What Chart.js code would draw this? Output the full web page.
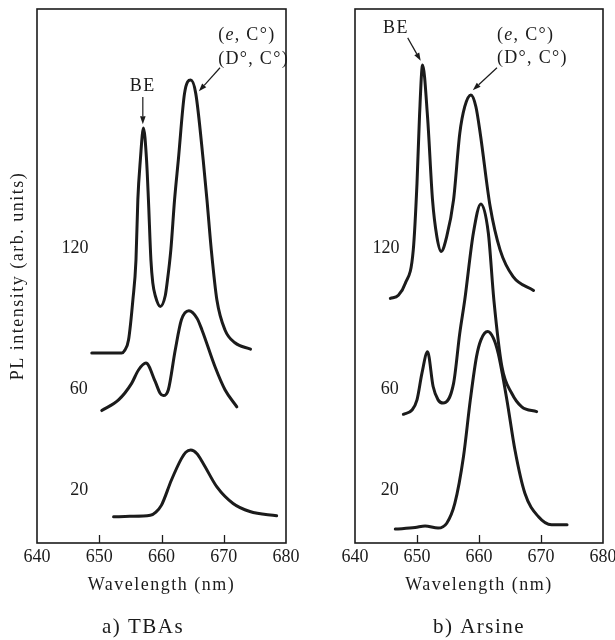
<!DOCTYPE html>
<html>
<head>
<meta charset="utf-8">
<script src="https://cdn.jsdelivr.net/npm/chart.js@4/dist/chart.umd.min.js"></script>
<style>
  html, body { margin: 0; padding: 0; background: #fff; }
  #wrap { position: relative; width: 615px; height: 640px; overflow: hidden; background: #fff; }
  canvas { position: absolute; top: 0; }
  #tbas { left: 0; }
  #arsine { left: 300px; }
</style>
</head>
<body>
<div id="wrap">
  <canvas id="tbas" width="300" height="640"></canvas>
  <canvas id="arsine" width="315" height="640"></canvas>
</div>
<script>
// Wavelength axis (nm)
const wavelengthTicks = [640, 650, 660, 670, 680];

// PL spectra, TBAs source: wavelength (nm) and intensity (arb. units, offset per trace)
const tbas120Wl  = [648.8, 650.9, 653.6, 654.1, 654.7, 655.4, 655.9, 656.2, 656.6, 657.1, 657.6, 657.9, 658.3, 658.6, 659.0, 659.8, 660.6, 660.9, 661.5, 662.1, 662.7, 663.7, 664.7, 665.5, 666.7, 667.3, 668.0, 668.9, 670.2, 671.8, 674.3];
const tbas120Int = [35.6, 35.6, 35.6, 36.1, 38.0, 45.5, 53.0, 64.3, 71.7, 77.7, 71.7, 64.3, 53.0, 48.7, 46.3, 44.3, 46.3, 48.7, 54.9, 64.3, 71.7, 84.2, 86.7, 84.2, 71.7, 64.3, 54.9, 45.5, 39.9, 37.5, 36.3];
const tbas60Wl   = [650.4, 653.1, 655.2, 656.3, 657.5, 659.0, 659.8, 660.3, 661.1, 662.2, 663.2, 664.4, 665.7, 666.5, 668.6, 670.2, 672.1];
const tbas60Int  = [24.8, 26.8, 29.9, 32.4, 33.7, 30.2, 28.0, 27.6, 28.7, 36.1, 41.8, 43.5, 42.1, 39.9, 33.0, 28.7, 25.5];
const tbas20Wl   = [652.3, 654.9, 658.2, 659.1, 660.0, 661.6, 663.2, 663.9, 664.7, 665.7, 666.7, 668.9, 671.5, 674.2, 678.5];
const tbas20Int  = [4.9, 5.0, 5.2, 5.8, 7.1, 11.8, 15.8, 17.0, 17.4, 16.7, 14.9, 10.5, 7.4, 5.9, 5.1];

// PL spectra, arsine source
const ars120Wl  = [645.7, 647.0, 648.1, 649.4, 650.0, 650.4, 650.9, 651.7, 652.5, 653.2, 653.9, 654.8, 655.9, 656.9, 657.7, 658.7, 659.5, 660.2, 661.8, 663.4, 665.5, 668.8];
const ars120Int = [45.8, 46.4, 48.6, 54.9, 67.4, 79.8, 89.5, 79.8, 64.3, 57.4, 54.6, 57.4, 64.3, 76.7, 81.7, 83.9, 81.7, 76.7, 63.0, 54.9, 49.9, 47.3];
const ars60Wl   = [647.8, 649.2, 650.0, 650.8, 651.7, 652.6, 653.4, 654.2, 655.9, 656.9, 657.7, 659.1, 660.3, 661.5, 662.4, 663.7, 665.3, 666.9, 669.3];
const ars60Int  = [24.1, 24.9, 26.8, 31.8, 35.8, 29.3, 26.8, 26.2, 29.9, 39.3, 45.5, 58.1, 63.5, 58.1, 45.5, 33.0, 28.0, 25.5, 24.6];
const ars20Wl   = [646.5, 649.7, 651.3, 653.4, 654.8, 656.1, 657.5, 658.6, 659.6, 660.3, 661.4, 662.3, 663.1, 664.5, 665.8, 667.4, 669.6, 671.7, 674.2];
const ars20Int  = [2.6, 2.9, 3.2, 2.8, 3.7, 7.4, 16.2, 26.8, 34.9, 38.0, 39.6, 38.4, 35.5, 26.8, 17.4, 9.3, 4.9, 3.4, 3.4];

// Trace labels
const traceLabels = ['120', '60', '20'];

const FONT = '"Liberation Serif", "Times New Roman", serif';
const INK = '#1b1b1b';

function trace(wl, inten) {
  return {
    data: wl.map((x, i) => ({ x, y: inten[i] })),
    borderColor: INK,
    borderWidth: 3,
    pointRadius: 0,
    fill: false,
    cubicInterpolationMode: 'monotone',
    borderCapStyle: 'round',
    borderJoinStyle: 'round'
  };
}

// Text on the axes and captions is set with a little tracking; tick numbers are not.
const trackingPlugin = {
  id: 'tracking',
  beforeDraw(chart) { chart.ctx.letterSpacing = '1.5px'; },
  beforeDatasetsDraw(chart) { chart.ctx.letterSpacing = '0px'; }
};

// Closed frame round the plot area with inward tick marks on the wavelength axis
const framePlugin = {
  id: 'frame',
  afterDatasetsDraw(chart) {
    const { ctx, chartArea: a, scales: { x } } = chart;
    ctx.save();
    ctx.strokeStyle = INK;
    ctx.lineWidth = 1.6;
    ctx.strokeRect(a.left, a.top, a.right - a.left, a.bottom - a.top);
    ctx.lineWidth = 1.3;
    x.ticks.forEach(t => {
      if (t.value > x.min && t.value < x.max) {
        const px = Math.round(x.getPixelForValue(t.value)) + 0.5;
        ctx.beginPath();
        ctx.moveTo(px, a.bottom);
        ctx.lineTo(px, a.bottom - 8);
        ctx.stroke();
      }
    });
    ctx.restore();
  }
};

// Trace labels, peak assignments and their arrows, placed in data coordinates
const notesPlugin = {
  id: 'notes',
  afterDraw(chart, args, opts) {
    const { ctx, scales: { x, y } } = chart;
    ctx.save();
    ctx.fillStyle = INK;
    ctx.strokeStyle = INK;
    ctx.textBaseline = 'middle';
    ctx.textAlign = 'left';
    (opts.labels || []).forEach(l => {
      ctx.letterSpacing = (l.spacing || 0) + 'px';
      const fontFor = p => (p[1] ? 'italic ' : '') + l.size + 'px ' + FONT;
      let w = 0;
      l.parts.forEach(p => { ctx.font = fontFor(p); w += ctx.measureText(p[0]).width; });
      let cx = x.getPixelForValue(l.at[0]);
      const cy = y.getPixelForValue(l.at[1]);
      if (l.align !== 'left') cx -= w / 2;
      l.parts.forEach(p => {
        ctx.font = fontFor(p);
        ctx.fillText(p[0], cx, cy);
        cx += ctx.measureText(p[0]).width;
      });
    });
    ctx.lineWidth = 1.2;
    (opts.arrows || []).forEach(([from, to]) => {
      const x1 = x.getPixelForValue(from[0]), y1 = y.getPixelForValue(from[1]);
      const x2 = x.getPixelForValue(to[0]), y2 = y.getPixelForValue(to[1]);
      const ang = Math.atan2(y2 - y1, x2 - x1);
      const head = 8, half = 2.8;
      const bx = x2 - head * Math.cos(ang), by = y2 - head * Math.sin(ang);
      ctx.beginPath();
      ctx.moveTo(x1, y1);
      ctx.lineTo(bx, by);
      ctx.stroke();
      ctx.beginPath();
      ctx.moveTo(x2, y2);
      ctx.lineTo(bx + half * Math.sin(ang), by - half * Math.cos(ang));
      ctx.lineTo(bx - half * Math.sin(ang), by + half * Math.cos(ang));
      ctx.closePath();
      ctx.fill();
    });
    ctx.restore();
  }
};

function xAxis() {
  return {
    type: 'linear',
    position: 'bottom',
    min: wavelengthTicks[0],
    max: wavelengthTicks[wavelengthTicks.length - 1],
    afterFit(s) { s.height = 61.8; s.paddingLeft = 0; s.paddingRight = 0; },
    afterBuildTicks(s) { s.ticks = wavelengthTicks.map(v => ({ value: v })); },
    grid: { display: false, drawTicks: false },
    border: { display: false },
    ticks: { padding: 3, z: 1, color: INK, autoSkip: false, maxRotation: 0, font: { family: FONT, size: 18 } },
    title: { display: true, text: 'Wavelength (nm)', color: INK, font: { family: FONT, size: 18 }, padding: { top: 0, bottom: 9 } }
  };
}

function assignment(at) {
  return [
    { parts: [['(', 0], ['e', 1], [', C°)', 0]], at: at[0], size: 18, spacing: 1.3, align: 'left' },
    { parts: [['(D°, C°)', 0]], at: at[1], size: 18, spacing: 1.3, align: 'left' }
  ];
}

function makeChart(id, datasets, o) {
  return new Chart(document.getElementById(id), {
    type: 'line',
    data: { datasets },
    options: {
      responsive: false,
      animation: false,
      events: [],
      layout: { padding: { top: 9, left: o.padLeft, right: o.padRight, bottom: 0 } },
      scales: { x: xAxis(), y: o.yAxis },
      plugins: {
        legend: { display: false },
        tooltip: { enabled: false },
        title: {
          display: true, text: o.caption, position: 'bottom', fullSize: o.fullCaption,
          color: INK, font: { family: FONT, size: 21, weight: 'normal' }, padding: { top: 10, bottom: 0 }
        },
        notes: o.notes
      }
    },
    plugins: [trackingPlugin, framePlugin, notesPlugin]
  });
}

makeChart('tbas', [trace(tbas120Wl, tbas120Int), trace(tbas60Wl, tbas60Int), trace(tbas20Wl, tbas20Int)], {
  padLeft: 0, padRight: 14, caption: 'a) TBAs', fullCaption: true,
  yAxis: {
    min: 0, max: 100, display: true,
    afterFit(s) { s.width = 37; },
    ticks: { display: false }, grid: { display: false, drawTicks: false }, border: { display: false },
    title: { display: true, text: 'PL intensity (arb. units)', color: INK, font: { family: FONT, size: 18 }, padding: { top: 7, bottom: 0 } }
  },
  notes: {
    labels: [
      { parts: [[traceLabels[0], 0]], at: [646.1, 55.2], size: 18 },
      { parts: [[traceLabels[1], 0]], at: [646.7, 28.8], size: 18 },
      { parts: [[traceLabels[2], 0]], at: [646.8, 9.9], size: 18 },
      { parts: [['BE', 0]], at: [657.0, 85.6], size: 18, spacing: 1.5 },
      ...assignment([[669.1, 95.1], [669.1, 90.6]])
    ],
    arrows: [
      [[657.0, 83.5], [657.0, 78.4]],
      [[669.4, 89.0], [666.0, 84.6]]
    ]
  }
});

makeChart('arsine', [trace(ars120Wl, ars120Int), trace(ars60Wl, ars60Int), trace(ars20Wl, ars20Int)], {
  padLeft: 55, padRight: 12, caption: 'b) Arsine', fullCaption: false,
  yAxis: { min: 0, max: 100, display: false },
  notes: {
    labels: [
      { parts: [[traceLabels[0], 0]], at: [645.0, 55.2], size: 18 },
      { parts: [[traceLabels[1], 0]], at: [645.6, 28.8], size: 18 },
      { parts: [[traceLabels[2], 0]], at: [645.6, 9.9], size: 18 },
      { parts: [['BE', 0]], at: [646.6, 96.3], size: 18, spacing: 1.5 },
      ...assignment([[662.9, 95.1], [662.9, 90.8]])
    ],
    arrows: [
      [[648.5, 94.6], [650.6, 90.3]],
      [[662.9, 89.0], [659.0, 84.8]]
    ]
  }
});
</script>
</body>
</html>
